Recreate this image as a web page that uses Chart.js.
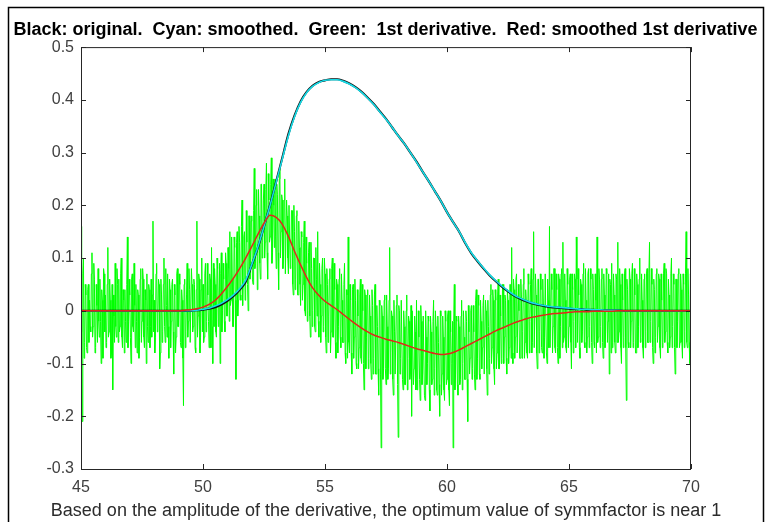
<!DOCTYPE html>
<html>
<head>
<meta charset="utf-8">
<script src="https://cdn.jsdelivr.net/npm/chart.js@4.4.1/dist/chart.umd.min.js"></script>
<style>
  html, body { margin: 0; padding: 0; background: #fff; }
  .ContainerGrafico { width: 771px; height: 522px; }
</style>
</head>
<body>
<div class="ContainerGrafico"><canvas id="grafico" width="771" height="522"></canvas></div>
<script>
// sample grids (x start and spacing of each series)
const xStart = 45;
const smoothStep = 0.25;
const noisyStep = 0.025;

const titleText = 'Black: original.  Cyan: smoothed.  Green:  1st derivative.  Red: smoothed 1st derivative';
const xLabel = 'Based on the amplitude of the derivative, the optimum value of symmfactor is near 1';
const xTicks = [45, 50, 55, 60, 65, 70];
const yTicks = [-0.3, -0.2, -0.1, 0, 0.1, 0.2, 0.3, 0.4, 0.5];

// black: original signal, 45..70 every 0.25
const blackY = [
  0, 0, 0, 0, 0, 0, 0, 0, 0, 0, 0, 0, 0, 0, 0, 0, 0, 0, 0, 0.001,
  0.002, 0.004, 0.007, 0.012, 0.019, 0.028, 0.04, 0.055,
  0.087, 0.12, 0.16, 0.201, 0.245, 0.29, 0.335, 0.37,
  0.397, 0.415, 0.427, 0.434, 0.437, 0.439, 0.439, 0.436,
  0.431, 0.424, 0.415, 0.404, 0.392, 0.378, 0.364, 0.348,
  0.332, 0.317, 0.3, 0.283, 0.264, 0.246, 0.227, 0.208,
  0.187, 0.168, 0.15, 0.128, 0.109, 0.094, 0.08, 0.067,
  0.056, 0.046, 0.037, 0.029, 0.023, 0.018, 0.014, 0.011,
  0.009, 0.007, 0.006, 0.005, 0.004, 0.003, 0.003, 0.002,
  0.002, 0.001, 0.001, 0.001, 0.001,
  0, 0, 0, 0, 0, 0, 0, 0, 0, 0, 0, 0
];

// cyan: smoothed signal
const cyanY = [
  0, 0, 0, 0, 0, 0, 0, 0, 0, 0, 0, 0, 0, 0, 0, 0, 0, 0, 0, 0.001,
  0.003, 0.005, 0.009, 0.014, 0.021, 0.03, 0.042, 0.058,
  0.088, 0.121, 0.16, 0.2, 0.244, 0.288, 0.332, 0.368,
  0.395, 0.414, 0.426, 0.433, 0.437, 0.438, 0.438, 0.435,
  0.43, 0.423, 0.414, 0.403, 0.391, 0.377, 0.363, 0.348,
  0.332, 0.317, 0.3, 0.282, 0.264, 0.246, 0.227, 0.208,
  0.187, 0.168, 0.15, 0.129, 0.11, 0.095, 0.081, 0.068,
  0.057, 0.047, 0.038, 0.03, 0.024, 0.019, 0.015, 0.012,
  0.01, 0.008, 0.007, 0.006, 0.005, 0.004, 0.003, 0.003,
  0.002, 0.002, 0.001, 0.001, 0.001,
  0, 0, 0, 0, 0, 0, 0, 0, 0, 0, 0, 0
];

// red: smoothed 1st derivative
const redY = [
  0, 0, 0, 0, 0, 0, 0, 0, 0, 0, 0, 0, 0, 0, 0, 0, 0, 0.001, 0.002, 0.004,
  0.007, 0.012, 0.02, 0.032, 0.046, 0.062, 0.08, 0.1,
  0.122, 0.145, 0.166, 0.181, 0.177, 0.164, 0.141, 0.113,
  0.087, 0.063, 0.043, 0.029, 0.018, 0.01, 0.002, -0.007,
  -0.016, -0.025, -0.033, -0.04, -0.046, -0.05, -0.054, -0.057,
  -0.06, -0.064, -0.068, -0.072, -0.075, -0.078, -0.081, -0.083,
  -0.082, -0.079, -0.074, -0.068, -0.062, -0.056, -0.05, -0.044,
  -0.038, -0.033, -0.028, -0.023, -0.019, -0.015, -0.012, -0.01,
  -0.008, -0.006, -0.005, -0.004, -0.003, -0.002, -0.002, -0.002,
  -0.001, -0.001, -0.001, -0.001,
  0, 0, 0, 0, 0, 0, 0, 0, 0, 0, 0, 0, 0
];

// green: noisy 1st derivative, 45..70 every 0.025 (one row = 0.25)
const greenY = [
  0.16, -0.04, -0.21, 0.07, 0.1, -0.09, -0.06, 0.05, 0.03, -0.07,
  -0.08, 0.04, 0.05, -0.06, 0.02, -0.03, -0.04, 0.07, 0.11, -0.05,
  -0.03, 0.09, 0.06, -0.08, -0.07, 0.05, 0.01, -0.06, 0.08, -0.02,
  -0.05, 0.06, -0.02, -0.1, 0.04, 0.02, -0.09, 0.08, 0.07, -0.04,
  0.03, -0.07, -0.06, 0.05, 0.12, -0.05, -0.04, 0.06, 0.02, -0.09,
  -0.08, 0.05, -0.15, 0.03, -0.01, -0.06, 0.09, -0.03, -0.05, 0.08,
  0.05, -0.06, 0.06, -0.04, -0.03, 0.07, 0.1, -0.05, -0.07, 0.04,
  0.02, -0.08, 0.04, -0.02, -0.06, 0.05, 0.14, -0.07, -0.02, 0.06,
  0.03, -0.05, -0.1, 0.06, 0.07, -0.03, -0.04, 0.09, 0.01, -0.07,
  0.05, -0.02, -0.08, 0.04, 0.03, -0.09, -0.05, 0.06, 0.08, -0.06,
  -0.02, 0.08, 0.06, -0.05, -0.07, 0.04, 0.02, -0.1, 0.07, -0.03,
  -0.06, 0.05, 0.04, -0.07, -0.03, 0.06, -0.05, 0.03, 0.17, -0.04,
  0.02, -0.08, -0.05, 0.07, 0.09, -0.04, -0.01, 0.06, 0.05, -0.11,
  -0.08, 0.06, 0.03, -0.06, -0.04, 0.05, 0.1, -0.03, -0.06, 0.08,
  0.01, -0.05, 0.07, -0.03, -0.09, 0.06, 0.04, -0.07, -0.02, 0.05,
  0.06, -0.04, -0.12, 0.05, 0.03, -0.08, -0.05, 0.07, 0.08, -0.03,
  -0.03, 0.07, 0.05, -0.06, -0.07, 0.04, 0.02, -0.09, -0.18, 0.05,
  0.06, -0.07, -0.04, 0.03, 0.09, -0.05, -0.02, 0.08, 0.04, -0.06,
  -0.06, 0.08, 0.05, -0.04, -0.03, 0.06, 0.05, -0.07, -0.08, 0.04,
  0.17, -0.05, -0.01, 0.07, 0.06, -0.08, -0.05, 0.04, 0.1, -0.04,
  0.05, -0.06, -0.05, 0.07, 0.09, -0.04, -0.02, 0.09, 0.03, -0.02,
  -0.07, 0.07, 0.06, -0.07, 0.12, -0.03, -0.1, 0.09, -0.03, 0.08,
  0.05, -0.04, -0.05, 0.1, 0.08, -0.03, 0.01, 0.09, -0.1, 0.07,
  0.11, -0.04, 0, 0.09, 0.06, -0.02, -0.04, 0.11, 0.09, -0.01,
  -0.01, 0.12, 0.08, -0.02, 0.15, 0.01, 0.02, 0.14, 0.06, -0.03,
  -0.03, 0.14, 0.12, 0.02, -0.13, 0.13, 0.15, -0.01, 0.02, 0.16,
  0.13, 0.03, 0.02, 0.16, 0.21, 0.01, 0.06, 0.14, 0.15, 0.02,
  0.06, 0.19, 0.13, 0.05, 0, 0.18, 0.18, 0.06, 0.09, 0.17,
  0.18, 0.06, 0.05, 0.19, 0.27, 0.08, 0.09, 0.2, 0.23, 0.04,
  0.1, 0.23, 0.18, 0.09, 0.06, 0.24, 0.24, 0.1, 0.13, 0.21,
  0.24, 0.1, 0.13, 0.23, 0.28, 0.11, 0.06, 0.26, 0.21, 0.13,
  0.14, 0.24, 0.29, 0.09, 0.11, 0.25, 0.2, 0.12, 0.25, 0.14,
  0.08, 0.24, 0.22, 0.11, 0.04, 0.25, 0.27, 0.1, 0.15, 0.22,
  0.21, 0.08, 0.1, 0.21, 0.25, 0.07, 0.07, 0.21, 0.18, 0.1,
  0.07, 0.2, 0.2, 0.08, 0.1, 0.19, 0.19, 0.05, 0.03, 0.2,
  0.15, 0.04, 0.06, 0.18, 0.19, 0.03, 0.03, 0.17, 0.12, 0.05,
  0.01, 0.15, 0.14, 0.02, 0.05, 0.13, 0.17, 0, -0.01, 0.14,
  0.09, -0.02, 0, 0.11, 0.13, -0.01, -0.05, 0.13, 0.08, -0.03,
  0, 0.1, 0.1, -0.03, -0.04, 0.12, 0.06, -0.01, 0.15, -0.02,
  -0.05, 0.09, 0.05, -0.06, -0.01, 0.08, 0.1, -0.04, -0.03, 0.1,
  0.07, -0.05, -0.08, 0.08, 0.05, -0.06, -0.01, 0.06, 0.08, -0.08,
  -0.04, 0.08, 0.1, -0.05, -0.05, 0.09, 0.04, -0.06, -0.09, 0.06,
  0.05, -0.08, -0.03, 0.06, 0.08, -0.05, -0.07, 0.07, 0.02, -0.06,
  -0.06, 0.05, 0.09, -0.08, -0.1, 0.04, 0.03, -0.09, 0.14, -0.06,
  -0.08, 0.05, 0.02, -0.08, -0.12, 0.04, 0.05, -0.09, -0.05, 0.06,
  0.02, -0.1, -0.11, 0.04, -0.01, -0.11, -0.07, 0.03, 0.06, -0.09,
  -0.1, 0.05, 0, -0.1, -0.15, 0.04, 0.03, -0.11, -0.05, 0.03,
  0.04, -0.11, -0.09, 0.03, -0.01, -0.1, -0.13, 0.04, 0.01, -0.12,
  -0.09, 0.03, 0.05, -0.12, -0.12, 0.01, -0.03, -0.11, -0.16, 0.02,
  0.01, -0.12, -0.26, 0.01, -0.01, -0.13, -0.11, 0.02, 0.03, -0.11,
  -0.14, 0.03, -0.03, -0.13, -0.11, 0.02, 0.12, -0.12, -0.08, 0,
  -0.01, -0.13, -0.16, 0.02, -0.04, -0.12, -0.12, 0.01, 0.03, -0.14,
  -0.24, 0.01, 0, -0.12, -0.09, 0.02, 0.02, -0.13, -0.15, 0,
  -0.03, -0.14, -0.14, 0, 0.03, -0.15, -0.09, -0.01, -0.02, -0.13,
  -0.12, 0.01, -0.2, 0, 0, -0.14, -0.11, -0.01, -0.04, -0.15,
  0.02, -0.15, -0.13, 0, -0.05, -0.13, -0.17, 0.01, -0.02, -0.14,
  -0.12, -0.01, -0.01, -0.16, -0.17, 0, -0.05, -0.14, -0.1, -0.01,
  -0.02, -0.15, -0.19, -0.01, -0.04, -0.14, -0.13, -0.02, 0.02, -0.16,
  -0.11, 0, -0.03, -0.15, -0.16, -0.01, -0.06, -0.14, -0.2, 0,
  -0.01, -0.16, -0.12, -0.01, -0.05, -0.15, -0.17, 0, -0.02, -0.14,
  -0.13, -0.01, 0, -0.15, -0.18, 0, -0.04, -0.14, -0.1, -0.02,
  -0.26, -0.02, 0.05, -0.15, -0.12, -0.01, -0.02, -0.14, -0.16, -0.01,
  -0.03, -0.14, -0.13, -0.01, 0.02, -0.15, -0.1, 0, -0.05, -0.13,
  -0.13, 0, -0.02, -0.13, -0.21, 0.01, -0.04, -0.12, -0.09, 0,
  0.01, -0.13, -0.11, 0.01, -0.04, -0.12, -0.15, 0.02, 0.04, -0.13,
  -0.09, 0.03, 0.01, -0.12, -0.13, 0.02, -0.02, -0.11, -0.07, 0.01,
  0.03, -0.12, -0.12, 0.02, 0, -0.11, -0.16, 0.02, -0.03, -0.12,
  -0.09, 0.03, 0.05, -0.1, -0.07, 0.04, 0.02, -0.11, -0.14, 0.04,
  0.02, -0.11, -0.08, 0.03, 0.06, -0.11, -0.11, 0.03, -0.01, -0.1,
  -0.09, 0.05, 0.05, -0.1, -0.05, 0.03, 0.02, -0.09, -0.12, 0.04,
  0.02, -0.1, -0.07, 0.05, 0.05, -0.09, 0.12, -0.08, -0.1, 0.06,
  0.04, -0.09, -0.05, 0.06, 0.07, -0.08, -0.08, 0.05, 0, -0.09,
  -0.09, 0.06, 0.03, -0.09, -0.04, 0.05, 0.08, -0.09, -0.06, 0.04,
  0.02, -0.08, -0.09, 0.07, 0.05, -0.08, -0.02, 0.05, 0.08, -0.08,
  -0.06, 0.06, 0.15, -0.07, -0.07, 0.07, 0.03, -0.08, -0.11, 0.06,
  0.06, -0.08, -0.04, 0.07, 0.04, -0.07, -0.08, 0.06, 0.01, -0.09,
  -0.05, 0.07, 0.07, -0.08, -0.1, 0.06, 0.02, -0.07, 0.16, -0.07,
  -0.07, 0.07, 0.04, -0.08, -0.03, 0.08, 0.08, -0.07, -0.08, 0.07,
  0.04, -0.07, -0.1, 0.07, 0.06, -0.09, -0.03, 0.07, 0.08, -0.07,
  0.13, -0.06, -0.05, 0.07, 0.02, -0.07, -0.08, 0.08, 0.05, -0.07,
  -0.03, 0.06, 0.07, -0.06, -0.11, 0.07, 0.04, -0.08, -0.02, 0.07,
  0.06, -0.07, 0.14, 0.06, -0.06, 0.08, 0.03, -0.07, -0.09, 0.06,
  0.05, -0.06, -0.04, 0.07, 0.09, -0.06, -0.07, 0.08, 0.02, -0.08,
  -0.05, 0.07, 0.08, -0.07, -0.03, 0.08, 0.06, -0.06, -0.1, 0.07,
  0.04, -0.06, -0.07, 0.07, 0.02, -0.08, 0.14, -0.06, -0.05, 0.08,
  0.06, -0.07, -0.03, 0.06, 0.08, -0.06, -0.09, 0.07, 0.03, -0.07,
  -0.04, 0.08, 0.07, -0.06, -0.02, 0.07, -0.12, 0.06, 0.05, -0.08,
  0.09, -0.07, -0.06, 0.07, 0.03, -0.06, -0.08, 0.07, 0.06, -0.06,
  0.13, -0.06, -0.04, 0.08, 0.05, -0.07, -0.1, 0.07, 0.02, -0.07,
  -0.05, 0.07, 0.08, -0.07, -0.17, 0.06, 0.04, -0.06, -0.07, 0.08,
  0.06, -0.07, -0.02, 0.07, 0.09, -0.07, -0.06, 0.08, 0.03, -0.08,
  -0.08, 0.07, 0.05, -0.07, -0.03, 0.06, 0.1, -0.06, -0.05, 0.07,
  0.02, -0.07, -0.09, 0.06, 0.07, -0.07, -0.04, 0.07, 0.08, -0.06,
  -0.06, 0.07, 0.13, -0.06, -0.02, 0.08, 0.05, -0.07, -0.1, 0.06,
  0.04, -0.08, -0.05, 0.07, 0.08, -0.06, -0.03, 0.07, 0.06, -0.07,
  -0.09, 0.07, 0.02, -0.07, -0.06, 0.07, 0.09, -0.06, -0.04, 0.08,
  0.07, -0.06, -0.08, 0.06, 0.03, -0.07, -0.05, 0.07, 0.1, -0.07,
  -0.03, 0.07, 0.05, -0.07, -0.12, 0.06, 0.06, -0.07, -0.02, 0.07,
  0.08, -0.07, -0.06, 0.07, 0.04, -0.06, -0.09, 0.07, 0.05, -0.07,
  -0.04, 0.07, 0.15, -0.06, -0.07, 0.08, 0.03, -0.06, -0.1, 0.07,
  0.06
];

const fontFamily = "'Liberation Sans', Arial, Helvetica, sans-serif";
const axisColor = '#262626';

const toPoints = (ys, step) => ys.map((y, i) => ({ x: xStart + i * step, y: y }));

// figure frame, plot box with inward ticks, and the x label (wider than the plot box)
const caixaPlugin = {
  id: 'caixa',
  beforeDraw(chart) {
    const ctx = chart.ctx;
    ctx.save();
    ctx.strokeStyle = '#000';
    ctx.lineWidth = 1.5;
    ctx.beginPath();
    ctx.moveTo(8.5, chart.height);
    ctx.lineTo(8.5, 7.5);
    ctx.lineTo(763.5, 7.5);
    ctx.lineTo(763.5, chart.height);
    ctx.stroke();
    ctx.restore();
  },
  afterDraw(chart) {
    const { ctx, chartArea: a } = chart;
    const xs = chart.scales.x, ys = chart.scales.y;
    const len = 5;
    ctx.save();
    ctx.strokeStyle = axisColor;
    ctx.lineWidth = 1;
    ctx.strokeRect(a.left + 0.5, a.top + 0.5, a.right - a.left - 1, a.bottom - a.top);
    ctx.beginPath();
    xTicks.forEach(v => {
      const px = Math.round(xs.getPixelForValue(v)) + 0.5;
      ctx.moveTo(px, a.bottom); ctx.lineTo(px, a.bottom - len);
      ctx.moveTo(px, a.top); ctx.lineTo(px, a.top + len);
    });
    yTicks.forEach(v => {
      const py = Math.round(ys.getPixelForValue(v)) + 0.5;
      ctx.moveTo(a.left, py); ctx.lineTo(a.left + len, py);
      ctx.moveTo(a.right, py); ctx.lineTo(a.right - len, py);
    });
    ctx.stroke();

    ctx.fillStyle = '#2b2b2b';
    ctx.font = '18px ' + fontFamily;
    ctx.textAlign = 'center';
    ctx.textBaseline = 'middle';
    ctx.fillText(xLabel, (a.left + a.right) / 2, a.bottom + 42);
    ctx.restore();
  }
};

const linha = (data, color, width) => ({
  data: data,
  borderColor: color,
  borderWidth: width,
  pointRadius: 0,
  fill: false
});

const config = {
  type: 'line',
  data: {
    datasets: [
      Object.assign(linha(toPoints(redY, smoothStep), '#e0281a', 1.5), { cubicInterpolationMode: 'monotone' }),
      Object.assign(linha(toPoints(cyanY, smoothStep), '#14dce8', 1.6), { cubicInterpolationMode: 'monotone' }),
      Object.assign(linha(toPoints(blackY, smoothStep), '#111', 2.2), { cubicInterpolationMode: 'monotone' }),
      Object.assign(linha(toPoints(greenY, noisyStep), '#00ff00', 1), { tension: 0 })
    ]
  },
  options: {
    responsive: false,
    animation: false,
    events: [],
    layout: { padding: 0 },
    plugins: {
      legend: { display: false },
      tooltip: { enabled: false },
      title: {
        display: true,
        text: titleText,
        color: '#000',
        font: { family: fontFamily, size: 18, weight: 'bold' },
        padding: { top: 19.5, bottom: 6 }
      }
    },
    scales: {
      x: {
        type: 'linear',
        position: 'bottom',
        min: 45,
        max: 70,
        afterBuildTicks: s => { s.ticks = xTicks.map(v => ({ value: v })); },
        ticks: { color: '#404040', font: { family: fontFamily, size: 16 }, padding: 9, maxRotation: 0 },
        grid: { display: false, drawTicks: false },
        border: { display: false },
        afterFit: s => { s.height = 53; }
      },
      y: {
        type: 'linear',
        position: 'left',
        min: -0.3,
        max: 0.5,
        afterBuildTicks: s => { s.ticks = yTicks.map(v => ({ value: v })); },
        ticks: {
          color: '#404040',
          font: { family: fontFamily, size: 16 },
          padding: 7,
          callback: v => String(Number(v.toFixed(1)))
        },
        grid: { display: false, drawTicks: false },
        border: { display: false },
        afterFit: s => { s.width = 81; }
      },
      y2: {
        type: 'linear',
        position: 'right',
        min: -0.3,
        max: 0.5,
        display: true,
        ticks: { display: false },
        grid: { display: false, drawTicks: false },
        border: { display: false },
        afterFit: s => { s.width = 80; }
      }
    }
  },
  plugins: [caixaPlugin]
};

new Chart(document.getElementById('grafico'), config);
</script>
</body>
</html>
